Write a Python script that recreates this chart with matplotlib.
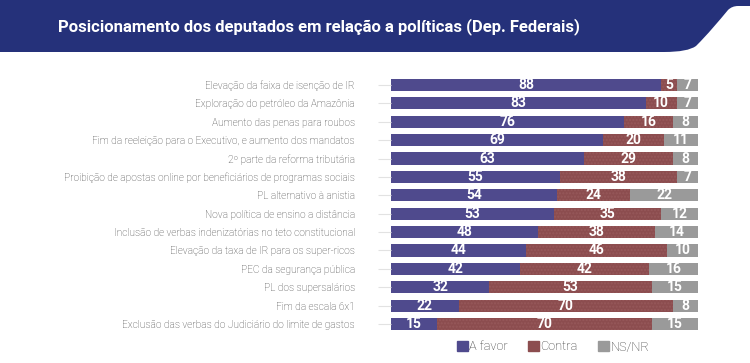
import matplotlib.pyplot as plt
import numpy as np
from matplotlib.patches import PathPatch, Patch
from matplotlib.path import Path

plt.rcParams['font.family'] = ['Roboto', 'DejaVu Sans']

# dados
politicas = [
    'Elevação da faixa de isenção de IR',
    'Exploração do petróleo da Amazônia',
    'Aumento das penas para roubos',
    'Fim da reeleição para o Executivo, e aumento dos mandatos',
    '2º parte da reforma tributária',
    'Proibição de apostas online por beneficiários de programas sociais',
    'PL alternativo à anistia',
    'Nova política de ensino a distância',
    'Inclusão de verbas indenizatórias no teto constitucional',
    'Elevação da taxa de IR para os super-ricos',
    'PEC da segurança pública',
    'PL dos supersalários',
    'Fim da escala 6x1',
    'Exclusão das verbas do Judiciário do limite de gastos',
]
a_favor = [88, 83, 76, 69, 63, 55, 54, 53, 48, 44, 42, 32, 22, 15]
contra = [5, 10, 16, 20, 29, 38, 24, 35, 38, 46, 42, 53, 70, 70]
ns_nr = [7, 7, 8, 11, 8, 7, 22, 12, 14, 10, 16, 15, 8, 15]

cor_favor = '#4f4a8d'
cor_contra = '#8c4d4f'
cor_nsnr = '#9a9a9a'
navy = '#25317a'

fig = plt.figure(figsize=(7.5, 3.63), dpi=100)
fig.patch.set_facecolor('white')

# faixa do título (borda direita curva)
hdr = fig.add_axes([0, 0, 1, 1], zorder=0)
hdr.set_xlim(0, 750); hdr.set_ylim(363, 0)
hdr.axis('off')
verts = [(0, 0), (750, 0), (750, 6), (738, 6),
         (732, 6), (728, 10),
         (718, 22), (708, 34), (696, 46),
         (688, 52), (664, 52),
         (0, 52), (0, 0)]
codes = [Path.MOVETO, Path.LINETO, Path.LINETO, Path.LINETO,
         Path.CURVE3, Path.CURVE3,
         Path.CURVE4, Path.CURVE4, Path.CURVE4,
         Path.CURVE3, Path.CURVE3,
         Path.LINETO, Path.CLOSEPOLY]
hdr.add_patch(PathPatch(Path(verts, codes), facecolor=navy, edgecolor='none'))
hdr.text(58, 27, 'Posicionamento dos deputados em relação a políticas (Dep. Federais)',
         color='white', fontsize=12, fontweight='bold', va='center', ha='left')

ax = fig.add_axes([391/750, 1 - 333.2/363, 307/750, 257.4/363], zorder=1)
y = np.arange(len(politicas))
h = 0.66
fav = np.array(a_favor); con = np.array(contra); ns = np.array(ns_nr)
ax.barh(y, fav, height=h, color=cor_favor)
ax.barh(y, con, left=fav, height=h, color=cor_contra, hatch='.....',
        edgecolor='#96585a', linewidth=0)
ax.barh(y, ns, left=fav + con, height=h, color=cor_nsnr)

for i in range(len(y)):
    segs = [(fav[i], 0), (con[i], fav[i]), (ns[i], fav[i] + con[i])]
    for v, l in segs:
        ax.text(l + v / 2, y[i], str(v), color='white', fontsize=10,
                fontweight='bold', ha='center', va='center')

ax.set_xlim(0, 100)
ax.set_ylim(len(y) - 0.5, -0.5)
ax.set_yticks(y)
ax.set_yticklabels(politicas, fontsize=7.3, color='#3c3c3c', fontweight='light')
ax.tick_params(axis='y', length=9.5, color='#e2e2e2', pad=16.5, width=0.8)
ax.set_xticks([])
for s in ax.spines.values():
    s.set_visible(False)

handles = [Patch(color=cor_favor, label='A favor'),
           Patch(color=cor_contra, label='Contra'),
           Patch(color=cor_nsnr, label='NS/NR')]
leg = fig.legend(handles=handles, loc='center', bbox_to_anchor=(553/750, 1 - 347/363),
                 ncol=3, frameon=False, fontsize=9.2, handlelength=0.85, handleheight=0.85,
                 handletextpad=0.1, columnspacing=1.6, labelcolor='#333333')
for t in leg.get_texts():
    t.set_fontweight('light')

fig.savefig('out.png', dpi=100, facecolor='white')
